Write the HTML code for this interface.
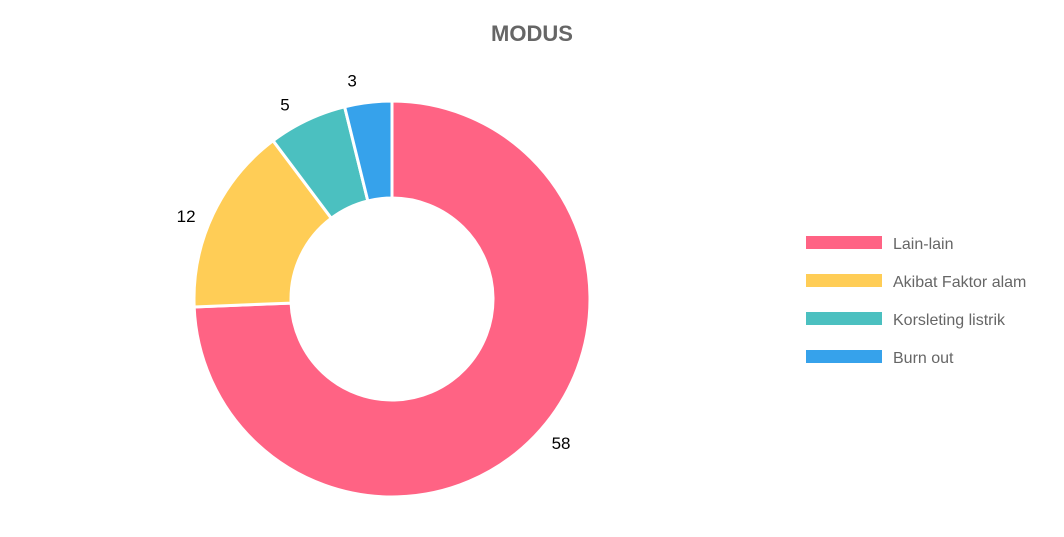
<!DOCTYPE html>
<html><head><meta charset="utf-8"><style>
body{margin:0;background:#fff;width:1064px;height:532px;overflow:hidden;font-family:"Liberation Sans",Arial,sans-serif}
</style></head><body>
<svg id="chart" width="1064" height="532" xmlns="http://www.w3.org/2000/svg">
<text x="532" y="41" text-anchor="middle" font-size="22" font-weight="bold" fill="#666" font-family="Liberation Sans, Arial, sans-serif">MODUS</text>
<g id="slices"></g><g id="labels"></g><g id="legend"></g>
</svg>
<script>
const categories=["Lain-lain","Akibat Faktor alam","Korsleting listrik","Burn out"];
const values=[58,12,5,3];
const colors=["#ff6384","#ffcd56","#4bc0c0","#36a2eb"];
const NS="http://www.w3.org/2000/svg";
const cx=392,cy=299,R=198,r=101,LR=222;
const total=values.reduce((a,b)=>a+b,0);
function pt(rad,a){return [cx+rad*Math.sin(a),cy-rad*Math.cos(a)];}
let a0=0;
const sg=document.getElementById('slices'),lg=document.getElementById('labels'),leg=document.getElementById('legend');
values.forEach((v,i)=>{
  const a1=a0+v/total*2*Math.PI;
  const large=(a1-a0)>Math.PI?1:0;
  const p1=pt(R,a0),p2=pt(R,a1),p3=pt(r,a1),p4=pt(r,a0);
  const p=document.createElementNS(NS,'path');
  p.setAttribute('d',`M${p1} A${R},${R} 0 ${large} 1 ${p2} L${p3} A${r},${r} 0 ${large} 0 ${p4} Z`);
  p.setAttribute('fill',colors[i]);p.setAttribute('stroke','#fff');p.setAttribute('stroke-width','3');
  
  
  sg.appendChild(p);
  const m=(a0+a1)/2-0.06,lp=pt(LR,m);
  const t=document.createElementNS(NS,'text');
  t.setAttribute('x',lp[0]);t.setAttribute('y',lp[1]+6);t.setAttribute('text-anchor','middle');
  t.setAttribute('font-size','17');t.setAttribute('fill','#000');t.textContent=v;
  
  
  lg.appendChild(t);
  const y=243+i*38;
  const b=document.createElementNS(NS,'rect');
  b.setAttribute('x',806);b.setAttribute('y',y-7);b.setAttribute('width',76);b.setAttribute('height',13);b.setAttribute('fill',colors[i]);
  
  
  leg.appendChild(b);
  const lt=document.createElementNS(NS,'text');
  lt.setAttribute('x',893);lt.setAttribute('y',y+6);lt.setAttribute('font-size','16');lt.setAttribute('fill','#666');lt.textContent=categories[i];
  
  
  leg.appendChild(lt);
  a0=a1;
});
</script>
</body></html>
